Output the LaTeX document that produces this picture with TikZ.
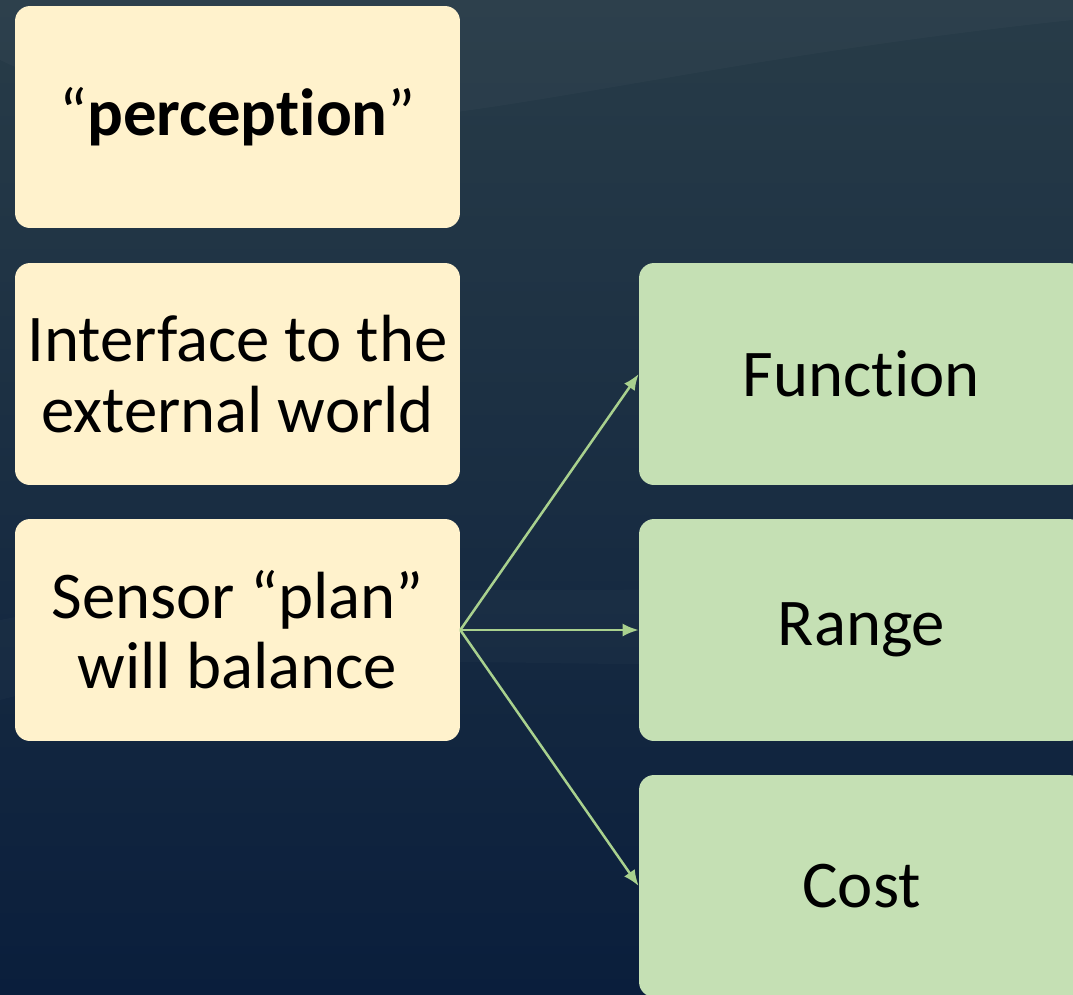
\documentclass[tikz,border=0pt]{standalone}
\usepackage{fontspec}
\setmainfont{Carlito}[Ligatures={TeX,NoCommon}]
\usetikzlibrary{arrows.meta}
\definecolor{boxyellow}{RGB}{255,242,204}
\definecolor{boxgreen}{RGB}{197,224,180}
\definecolor{arrowgreen}{RGB}{169,209,142}
\definecolor{bgtop}{RGB}{40,60,72}
\definecolor{bgbottom}{RGB}{10,30,60}
\tikzset{
	tile/.style={rounded corners=0.3cm, minimum width=8.9cm, minimum height=4.44cm,
		inner sep=0pt, align=center, text=black, font=\fontsize{38}{40}\selectfont},
	askbox/.style={tile, fill=boxyellow},
	factorbox/.style={tile, fill=boxgreen},
	link/.style={draw=arrowgreen, line width=0.05cm, -{Latex[length=0.32cm,width=0.26cm]}}
}

\begin{document}
\begin{tikzpicture}[x=0.02cm, y=-0.02cm]
		%%%%% START %%%%%
		
		\clip (0, 0) rectangle (1073, 995);
		\shade[top color=bgtop, bottom color=bgbottom] (0, 0) rectangle (1073, 995);
		\fill[white, opacity=0.025] (0, 60) .. controls (300, 200) and (500, 80) .. (1073, 20) -- (1073, 0) -- (0, 0) -- cycle;
		\fill[white, opacity=0.02] (0, 700) .. controls (300, 620) and (700, 700) .. (1073, 640) -- (1073, 560) .. controls (700, 620) and (300, 560) .. (0, 620) -- cycle;
		
		\node[askbox] (perception) at (237.5, 117) {``\textbf{perception}''};
		\node[askbox] (interface) at (237.5, 374) {Interface to the\\external world};
		\node[askbox] (sensor) at (237.5, 630) {Sensor ``plan''\\will balance};
		
		\node[factorbox] (function) at (861.5, 374) {Function};
		\node[factorbox] (range) at (861.5, 630) {Range};
		\node[factorbox] (cost) at (861.5, 886) {Cost};
		
		\draw[link] (sensor.east) -- (function.west);
		\draw[link] (sensor.east) -- (range.west);
		\draw[link] (sensor.east) -- (cost.west);
		
		%%%%% END %%%%%
	\end{tikzpicture}
\end{document}
